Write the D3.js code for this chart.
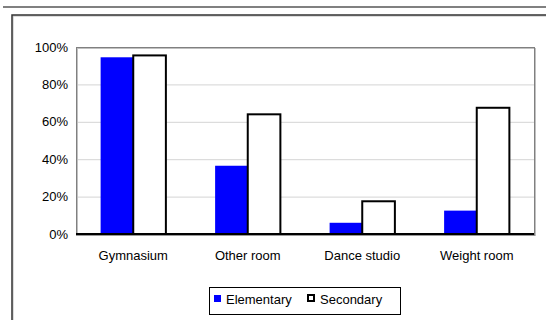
<!DOCTYPE html>
<html>
<head>
<meta charset="utf-8">
<script src="https://cdn.jsdelivr.net/npm/d3@7"></script>
<style>
  body { margin: 0; background: #fff; }
  text { font-family: "Liberation Sans", Arial, sans-serif; fill: #000; }
</style>
</head>
<body>
<script>
(function(){

//chart data
var categories = ["Gymnasium", "Other room", "Dance studio", "Weight room"];
var seriesNames = ["Elementary", "Secondary"];
var elementary = [94.5, 36.5, 6, 12.5];
var secondary = [95.5, 64, 17.5, 67.5];
var yTicks = [0, 20, 40, 60, 80, 100];

var width = 546,
    height = 320,
    plotLeft = 76,
    plotRight = 534,
    plotTop = 47,
    plotBottom = 234,
    fontSize = "13px";

var svg = d3.select("body")
    .append("svg")
    .attr("width", width)
    .attr("height", height)
    .style("display", "block")
    .style("background-color", "#fff");

//scales
var xScale = d3.scaleBand()
    .domain(categories)
    .range([plotLeft, plotRight])
    .paddingInner(0.43)
    .paddingOuter(0.215);

var subScale = d3.scaleBand()
    .domain(seriesNames)
    .range([0, xScale.bandwidth()]);

var yScale = d3.scaleLinear()
    .domain([0, 100])
    .range([plotBottom, plotTop]);

//top rule and outer frame
svg.append("line")
    .attr("x1", 3).attr("x2", width)
    .attr("y1", 7).attr("y2", 7)
    .style("stroke", "#808080")
    .style("stroke-width", 2);

svg.append("rect")
    .attr("x", 13).attr("y", 16)
    .attr("width", 700).attr("height", 500)
    .style("fill", "none")
    .style("stroke", "#bbb")
    .style("stroke-width", 1);

svg.append("rect")
    .attr("x", 12).attr("y", 15)
    .attr("width", 700).attr("height", 500)
    .style("fill", "none")
    .style("stroke", "#333")
    .style("stroke-width", 1.5);

//gridlines
svg.selectAll(".grid")
    .data(yTicks.filter(function(d){ return d > 0 && d < 100; }))
    .enter()
    .append("line")
    .attr("class", "grid")
    .attr("x1", plotLeft).attr("x2", plotRight)
    .attr("y1", function(d){ return yScale(d) + 0.5; })
    .attr("y2", function(d){ return yScale(d) + 0.5; })
    .style("stroke", "#d4d4d4")
    .style("stroke-width", 1);

//plot area border with shadow
svg.append("rect")
    .attr("x", plotLeft + 1.5).attr("y", plotTop + 1.5)
    .attr("width", plotRight - plotLeft).attr("height", plotBottom - plotTop)
    .style("fill", "none")
    .style("stroke", "#c0c0c0")
    .style("stroke-width", 1);

svg.append("rect")
    .attr("x", plotLeft + 0.5).attr("y", plotTop + 0.5)
    .attr("width", plotRight - plotLeft).attr("height", plotBottom - plotTop)
    .style("fill", "none")
    .style("stroke", "#808080")
    .style("stroke-width", 1);

//bars
var groups = svg.selectAll(".group")
    .data(categories)
    .enter()
    .append("g")
    .attr("class", "group")
    .attr("transform", function(d){ return "translate(" + xScale(d) + ",0)"; });

groups.append("rect")
    .attr("class", "bar elementary")
    .attr("x", subScale("Elementary"))
    .attr("width", subScale.bandwidth())
    .attr("y", function(d, i){ return yScale(elementary[i]); })
    .attr("height", function(d, i){ return plotBottom - yScale(elementary[i]); })
    .style("fill", "#0000ff");

groups.append("rect")
    .attr("class", "bar secondary")
    .attr("x", subScale("Secondary"))
    .attr("width", subScale.bandwidth())
    .attr("y", function(d, i){ return yScale(secondary[i]); })
    .attr("height", function(d, i){ return plotBottom - yScale(secondary[i]); })
    .style("fill", "#fff")
    .style("stroke", "#000")
    .style("stroke-width", 2);

//category axis line
svg.append("line")
    .attr("x1", plotLeft).attr("x2", plotRight + 1)
    .attr("y1", plotBottom + 1.5).attr("y2", plotBottom + 1.5)
    .style("stroke", "#999")
    .style("stroke-width", 1);

svg.append("line")
    .attr("x1", plotLeft).attr("x2", plotRight)
    .attr("y1", plotBottom).attr("y2", plotBottom)
    .style("stroke", "#000")
    .style("stroke-width", 2);

//value axis labels
var yAxis = d3.axisLeft(yScale)
    .tickValues(yTicks)
    .tickSize(0)
    .tickPadding(8)
    .tickFormat(function(d){ return d + "%"; });

var yAxisG = svg.append("g")
    .attr("transform", "translate(" + plotLeft + ",0)")
    .call(yAxis);
yAxisG.select(".domain").remove();
yAxisG.selectAll("text")
    .style("font-size", fontSize)
    .style("font-family", "Liberation Sans, Arial, sans-serif");

//category axis labels
var xAxis = d3.axisBottom(xScale)
    .tickSize(0)
    .tickPadding(17);

var xAxisG = svg.append("g")
    .attr("transform", "translate(0," + plotBottom + ")")
    .call(xAxis);
xAxisG.select(".domain").remove();
xAxisG.selectAll("text")
    .style("font-size", fontSize)
    .style("font-family", "Liberation Sans, Arial, sans-serif");

//legend
var legend = svg.append("g")
    .attr("class", "legend")
    .attr("transform", "translate(209,287)");

legend.append("rect")
    .attr("x", 0.5).attr("y", 0.5)
    .attr("width", 191).attr("height", 27)
    .style("fill", "#fff")
    .style("stroke", "#000")
    .style("stroke-width", 1);

legend.append("rect")
    .attr("x", 5).attr("y", 8)
    .attr("width", 7).attr("height", 7)
    .style("fill", "#0000ff");

legend.append("text")
    .attr("x", 17).attr("y", 17)
    .style("font-size", fontSize)
    .text(seriesNames[0]);

legend.append("rect")
    .attr("x", 99).attr("y", 8)
    .attr("width", 6).attr("height", 6)
    .style("fill", "#fff")
    .style("stroke", "#000")
    .style("stroke-width", 2);

legend.append("text")
    .attr("x", 111).attr("y", 17)
    .style("font-size", fontSize)
    .text(seriesNames[1]);

})();
</script>
</body>
</html>
